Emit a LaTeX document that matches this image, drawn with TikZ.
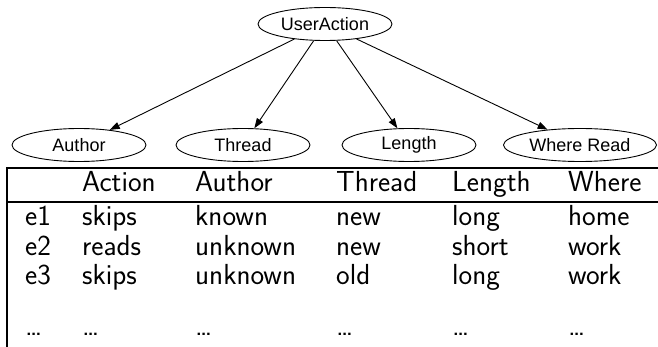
\documentclass[tikz,border=0pt]{standalone}
\usepackage{fontspec}
\usepackage{tikz}
\usetikzlibrary{shapes.geometric,arrows.meta}
\newfontfamily\graphfont{Liberation Sans}
\tikzstyle{myellipse} = [draw=black, line width=0.9pt, ellipse, inner sep=0pt, minimum width=134pt, minimum height=33pt, font=\graphfont\fontsize{18}{20}\selectfont]
\tikzstyle{myarrow} = [-{Triangle[length=10pt,width=7pt]}, line width=0.9pt]
\tikzstyle{mycell} = [anchor=base west, inner sep=0pt, font=\sffamily\fontsize{29}{34}\selectfont]
\tikzstyle{myrule} = [line width=1.2pt]

\begin{document}
\begin{tikzpicture}[x=1pt,y=-1pt]
    \useasboundingbox (0,0) rectangle (658,347);
    % graph
    \node [myellipse] (useraction) at (325,24) {UserAction};
    \node [myellipse] (author) at (79,145) {Author};
    \node [myellipse] (thread) at (243,145) {Thread};
    \node [myellipse] (length) at (409,145) {Length};
    \node [myellipse, minimum width=153pt] (whereread) at (580,145) {Where Read};
    \foreach \n in {author,thread,length,whereread}
        \draw [myarrow] (useraction) -- (\n);
    % table
    \draw [myrule] (658,168) -- (7,168) -- (7,347);
    \draw [myrule] (7,202) -- (658,202);
    \foreach \x/\t [count=\i] in {82/Action,195/Author,336/Thread,452/Length,568/Where}
        \node [mycell] (head\i) at (\x,192) {\t};
    \foreach \x/\t [count=\i] in {25/e1,82/skips,195/known,336/new,452/long,568/home}
        \node [mycell] (rowa\i) at (\x,226) {\t};
    \foreach \x/\t [count=\i] in {25/e2,82/reads,195/unknown,336/new,452/short,568/work}
        \node [mycell] (rowb\i) at (\x,255) {\t};
    \foreach \x/\t [count=\i] in {25/e3,82/skips,195/unknown,336/old,452/long,568/work}
        \node [mycell] (rowc\i) at (\x,284) {\t};
    \foreach \x [count=\i] in {25,82,195,336,452,568}
        \node [mycell] (rowd\i) at (\x,335) {\dots};
\end{tikzpicture}
\end{document}
